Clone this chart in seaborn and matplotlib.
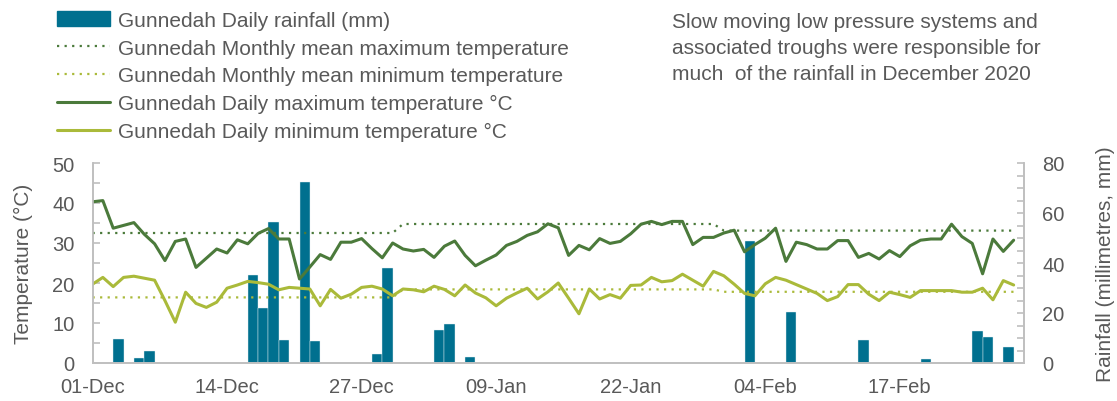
import numpy as np
import pandas as pd
import matplotlib
matplotlib.use("Agg")
import matplotlib.pyplot as plt
import seaborn as sns
from matplotlib.patches import Patch
from matplotlib.lines import Line2D
from matplotlib.ticker import MultipleLocator

# Daily data, 01-Dec-2020 to 28-Feb-2021 (day index 0..89)
dates = pd.date_range("2020-12-01", periods=90, freq="D")

tmax = [40.3, 40.6, 33.7, 34.4, 35.1, 32.2, 29.8, 25.6, 30.4, 31.0,
        23.9, 26.2, 28.5, 27.5, 30.8, 29.8, 32.4, 33.6, 31.0, 31.0,
        21.0, 24.0, 27.1, 25.9, 30.2, 30.2, 31.1, 28.6, 26.3, 30.0,
        28.5, 28.0, 28.4, 26.4, 29.2, 30.5, 26.9, 24.3, 25.7, 27.0,
        29.4, 30.4, 31.9, 32.8, 34.8, 33.8, 26.9, 29.4, 28.3, 31.1,
        29.9, 30.4, 32.3, 34.7, 35.4, 34.6, 35.4, 35.4, 29.6, 31.4,
        31.4, 32.5, 33.2, 27.8, 29.6, 31.2, 33.7, 25.4, 30.2, 29.6,
        28.5, 28.5, 30.6, 30.6, 26.4, 27.4, 26.0, 28.1, 26.6, 29.3,
        30.7, 31.0, 31.0, 34.7, 31.6, 29.9, 22.3, 31.0, 27.9, 30.7]

tmin = [19.7, 21.4, 19.1, 21.4, 21.7, 21.2, 20.7, 15.6, 10.2, 17.7,
        14.9, 13.9, 15.2, 18.7, 19.5, 20.4, 20.1, 19.7, 18.3, 18.9,
        18.7, 18.5, 14.3, 18.4, 16.2, 17.2, 18.9, 19.2, 18.5, 16.8,
        18.5, 18.3, 17.8, 19.2, 18.4, 16.8, 19.5, 17.5, 16.3, 14.3,
        16.2, 17.5, 18.7, 16.0, 17.8, 20.0, 16.2, 12.3, 18.5, 16.0,
        17.1, 16.2, 19.4, 19.5, 21.4, 20.3, 20.6, 22.2, 20.7, 19.2,
        22.9, 21.8, 19.7, 17.4, 16.8, 19.8, 21.4, 20.7, 19.6, 18.5,
        17.4, 15.6, 16.6, 19.6, 19.6, 17.2, 15.6, 17.7, 17.1, 16.4,
        18.1, 18.1, 18.1, 18.1, 17.7, 17.7, 18.7, 15.8, 20.6, 19.5]

# rainfall: day index and mm (days with no bar are dry)
rain_days = [2, 4, 5, 15, 16, 17, 18, 20, 21, 27, 28, 33, 34, 36,
             63, 67, 74, 80, 85, 86, 88]
rain_mm = [9.6, 1.9, 4.8, 35.2, 22.0, 56.3, 9.2, 72.3, 8.7, 3.6, 38.1,
           13.3, 15.5, 2.4, 48.7, 20.5, 9.2, 1.6, 12.9, 10.4, 6.3]

# monthly means (Dec, Jan, Feb) and number of days each spans on the line
mean_max_vals = [32.5, 34.75, 33.1]
mean_min_vals = [16.4, 18.4, 17.8]
mean_span = [30, 31, 29]

tick_days = [0, 13, 26, 39, 52, 65, 78]

c_rain = "#00708F"
c_max = "#4B7A3B"
c_min = "#AABA3A"
c_text = "#595959"
c_axis = "#BFBFBF"

sns.set_style("white")
plt.rcParams["font.family"] = ["Liberation Sans", "DejaVu Sans"]

day = np.arange(len(dates))
mean_max = np.repeat(mean_max_vals, mean_span)
mean_min = np.repeat(mean_min_vals, mean_span)

fig = plt.figure(figsize=(11.17, 4.02), dpi=100)
ax = fig.add_axes([92.5 / 1117, 38 / 402, 931.5 / 1117, 200 / 402])
ax2 = ax.twinx()

# rainfall bars on the right axis
sns.barplot(x=np.array(rain_days) + 0.5, y=rain_mm, native_scale=True,
            width=1.0, color=c_rain, saturation=1, errorbar=None,
            edgecolor="#E6F0F3", linewidth=0.3, ax=ax2)

# temperatures on the left axis
dot = (0, (1, 2.4))
sns.lineplot(x=day, y=mean_max, color=c_max, lw=1.6, ls=dot, ax=ax)
sns.lineplot(x=day, y=mean_min, color=c_min, lw=1.6, ls=dot, ax=ax)
sns.lineplot(x=day, y=tmax, color=c_max, lw=2.2, ax=ax)
sns.lineplot(x=day, y=tmin, color=c_min, lw=2.2, ax=ax)

ax.set_zorder(ax2.get_zorder() + 1)
ax.patch.set_visible(False)

ax.set_xlim(0, 90)
ax.set_ylim(0, 50)
ax2.set_ylim(0, 80)
ax.set_xticks(tick_days)
ax.set_xticklabels([dates[d].strftime("%d-%b") for d in tick_days])
ax.yaxis.set_major_locator(MultipleLocator(10))
ax.yaxis.set_minor_locator(MultipleLocator(5))
ax2.yaxis.set_major_locator(MultipleLocator(20))
ax2.yaxis.set_minor_locator(MultipleLocator(5))

for a in (ax, ax2):
    for s in a.spines.values():
        s.set_color(c_axis)
        s.set_linewidth(1.2)
    a.spines["top"].set_visible(False)
    a.set_xlabel("")

ax.tick_params(axis="x", direction="out", length=5, width=1.2, color=c_axis,
               labelsize=14.5, labelcolor=c_text, pad=5)
ax.tick_params(axis="y", which="both", direction="in", length=5, width=1.2,
               color=c_axis, labelsize=14.5, labelcolor=c_text, pad=13)
ax2.tick_params(axis="y", which="both", direction="in", length=5, width=1.2,
                color=c_axis, labelsize=14.5, labelcolor=c_text, pad=13)

ax.set_ylabel("Temperature (°C)", fontsize=15, color=c_text)
ax.yaxis.set_label_coords(-0.064, 0.5)
ax2.set_ylabel("Rainfall (millimetres, mm)", fontsize=15, color=c_text)
ax2.yaxis.set_label_coords(1.077, 0.5)

handles = [
    Patch(color=c_rain),
    Line2D([], [], color=c_max, lw=1.6, ls=dot),
    Line2D([], [], color=c_min, lw=1.6, ls=dot),
    Line2D([], [], color=c_max, lw=2.2),
    Line2D([], [], color=c_min, lw=2.2),
]
labels = [
    "Gunnedah Daily rainfall (mm)",
    "Gunnedah Monthly mean maximum temperature",
    "Gunnedah Monthly mean minimum temperature",
    "Gunnedah Daily maximum temperature °C",
    "Gunnedah Daily minimum temperature °C",
]
leg = fig.legend(handles, labels, loc="upper left",
                 bbox_to_anchor=(57 / 1117, 1 - 12 / 402), frameon=False,
                 fontsize=15, handlelength=2.55, handletextpad=0.4,
                 labelspacing=0.42, borderpad=0, borderaxespad=0)
for t in leg.get_texts():
    t.set_color(c_text)

fig.text(672 / 1117, 1 - 13 / 402,
         "Slow moving low pressure systems and\n"
         "associated troughs were responsible for\n"
         "much  of the rainfall in December 2020",
         ha="left", va="top", fontsize=15, color=c_text, linespacing=1.45)

fig.savefig("out.png", dpi=100)
